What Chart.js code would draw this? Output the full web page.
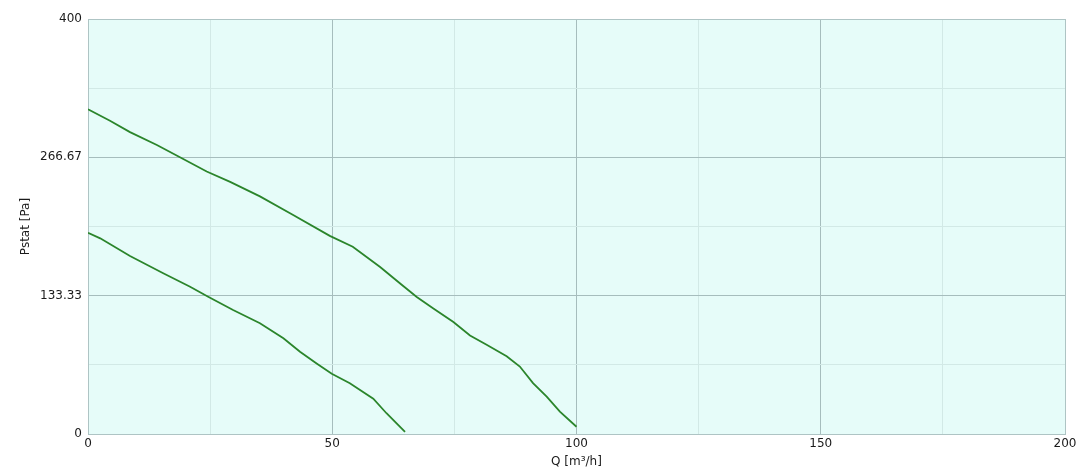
<!DOCTYPE html>
<html>
<head>
<meta charset="utf-8">
<script src="https://cdn.jsdelivr.net/npm/chart.js@4/dist/chart.umd.min.js"></script>
<style>
  html, body { margin: 0; padding: 0; background: #ffffff; }
  #wrap { width: 1077px; height: 473px; }
</style>
</head>
<body>
<div id="wrap"><canvas id="c" width="1077" height="473"></canvas></div>
<script>
// Fan curves: static pressure against air flow
const flowHigh = [0, 4.5, 8.6, 14.1, 19.5, 24.3, 29.1, 35.2, 42.0, 49.5, 54.2, 59.8, 63.9, 67.3, 70.7, 74.8, 78.2, 81.6, 85.7, 88.4, 91.1, 93.9, 96.6, 100];
const pressHigh = [313, 302, 291, 278.5, 265, 253, 243, 229, 211, 191, 180.5, 161, 145, 132, 121, 108, 95, 86, 75, 65, 49, 36, 21.5, 7];

const flowLow = [0, 2.5, 8.6, 15.4, 20.9, 24.6, 29.7, 35.2, 40.0, 43.4, 46.8, 49.9, 53.6, 58.4, 61.1, 64.9];
const pressLow = [194, 188.6, 171.6, 155, 142, 132.3, 119.5, 106.7, 92.2, 79.3, 68, 58, 49, 34, 20, 2];

// Axis grid positions and labels
const xTicks = [0, 25, 50, 75, 100, 125, 150, 175, 200];
const xLabels = ['0', '', '50', '', '100', '', '150', '', '200'];
const yTicks = [0, 400 / 6, 800 / 6, 200, 1600 / 6, 2000 / 6, 400];
const yLabels = ['0', '', '133.33', '', '266.67', '', '400'];

const toPoints = (xs, ys) => xs.map((x, i) => ({ x: x, y: ys[i] }));

const MAJOR = '#a6bdbd';
const MINOR = '#d2e9e6';
const EDGE = '#aec4c4';
const TEXT = '#1a1a1a';
const FONT = { family: 'DejaVu Sans', size: 12 };

const plotBackground = {
  id: 'plotBackground',
  beforeDraw(chart) {
    const { ctx, chartArea: a } = chart;
    ctx.save();
    ctx.fillStyle = '#e6fcf9';
    ctx.fillRect(a.left, a.top, a.right - a.left, a.bottom - a.top);
    ctx.restore();
  }
};

new Chart(document.getElementById('c'), {
  type: 'line',
  data: {
    datasets: [
      {
        data: toPoints(flowHigh, pressHigh),
        borderColor: '#2b852b',
        borderWidth: 1.8,
        pointRadius: 0,
        tension: 0,
        fill: false
      },
      {
        data: toPoints(flowLow, pressLow),
        borderColor: '#2b852b',
        borderWidth: 1.8,
        pointRadius: 0,
        tension: 0,
        fill: false
      }
    ]
  },
  options: {
    responsive: false,
    animation: false,
    layout: { padding: { left: 0, right: 12, top: 19, bottom: 0 } },
    plugins: { legend: { display: false }, tooltip: { enabled: false } },
    scales: {
      x: {
        type: 'linear',
        min: 0,
        max: 200,
        afterBuildTicks(scale) { scale.ticks = xTicks.map(v => ({ value: v })); },
        afterFit(scale) {
          scale.height = 39;
          scale.paddingRight = 0;
          scale.paddingLeft = 0;
        },
        ticks: {
          autoSkip: false,
          maxRotation: 0,
          padding: 3,
          color: TEXT,
          font: FONT,
          callback: (v, i) => xLabels[i]
        },
        grid: {
          drawTicks: false,
          color: ctx => {
            const v = ctx.tick.value;
            if (v === 0 || v === 200) return EDGE;
            return v % 50 === 0 ? MAJOR : MINOR;
          },
          lineWidth: 1
        },
        border: { display: true, color: EDGE, width: 1 },
        title: {
          display: true,
          text: 'Q [m³/h]',
          color: TEXT,
          font: FONT,
          padding: { top: 0, bottom: 4 }
        }
      },
      y: {
        type: 'linear',
        min: 0,
        max: 400,
        afterBuildTicks(scale) { scale.ticks = yTicks.map(v => ({ value: v })); },
        afterFit(scale) { scale.width = 88; },
        ticks: {
          autoSkip: false,
          padding: 6,
          color: TEXT,
          font: FONT,
          callback: (v, i) => yLabels[i]
        },
        grid: {
          drawTicks: false,
          color: ctx => {
            const i = ctx.index;
            if (i === 0 || i === yTicks.length - 1) return EDGE;
            return i % 2 === 0 ? MAJOR : MINOR;
          },
          lineWidth: 1
        },
        border: { display: true, color: EDGE, width: 1 },
        title: {
          display: true,
          text: 'Pstat [Pa]',
          color: TEXT,
          font: FONT,
          padding: { top: 19, bottom: 0 }
        }
      }
    }
  },
  plugins: [plotBackground]
});
</script>
</body>
</html>
